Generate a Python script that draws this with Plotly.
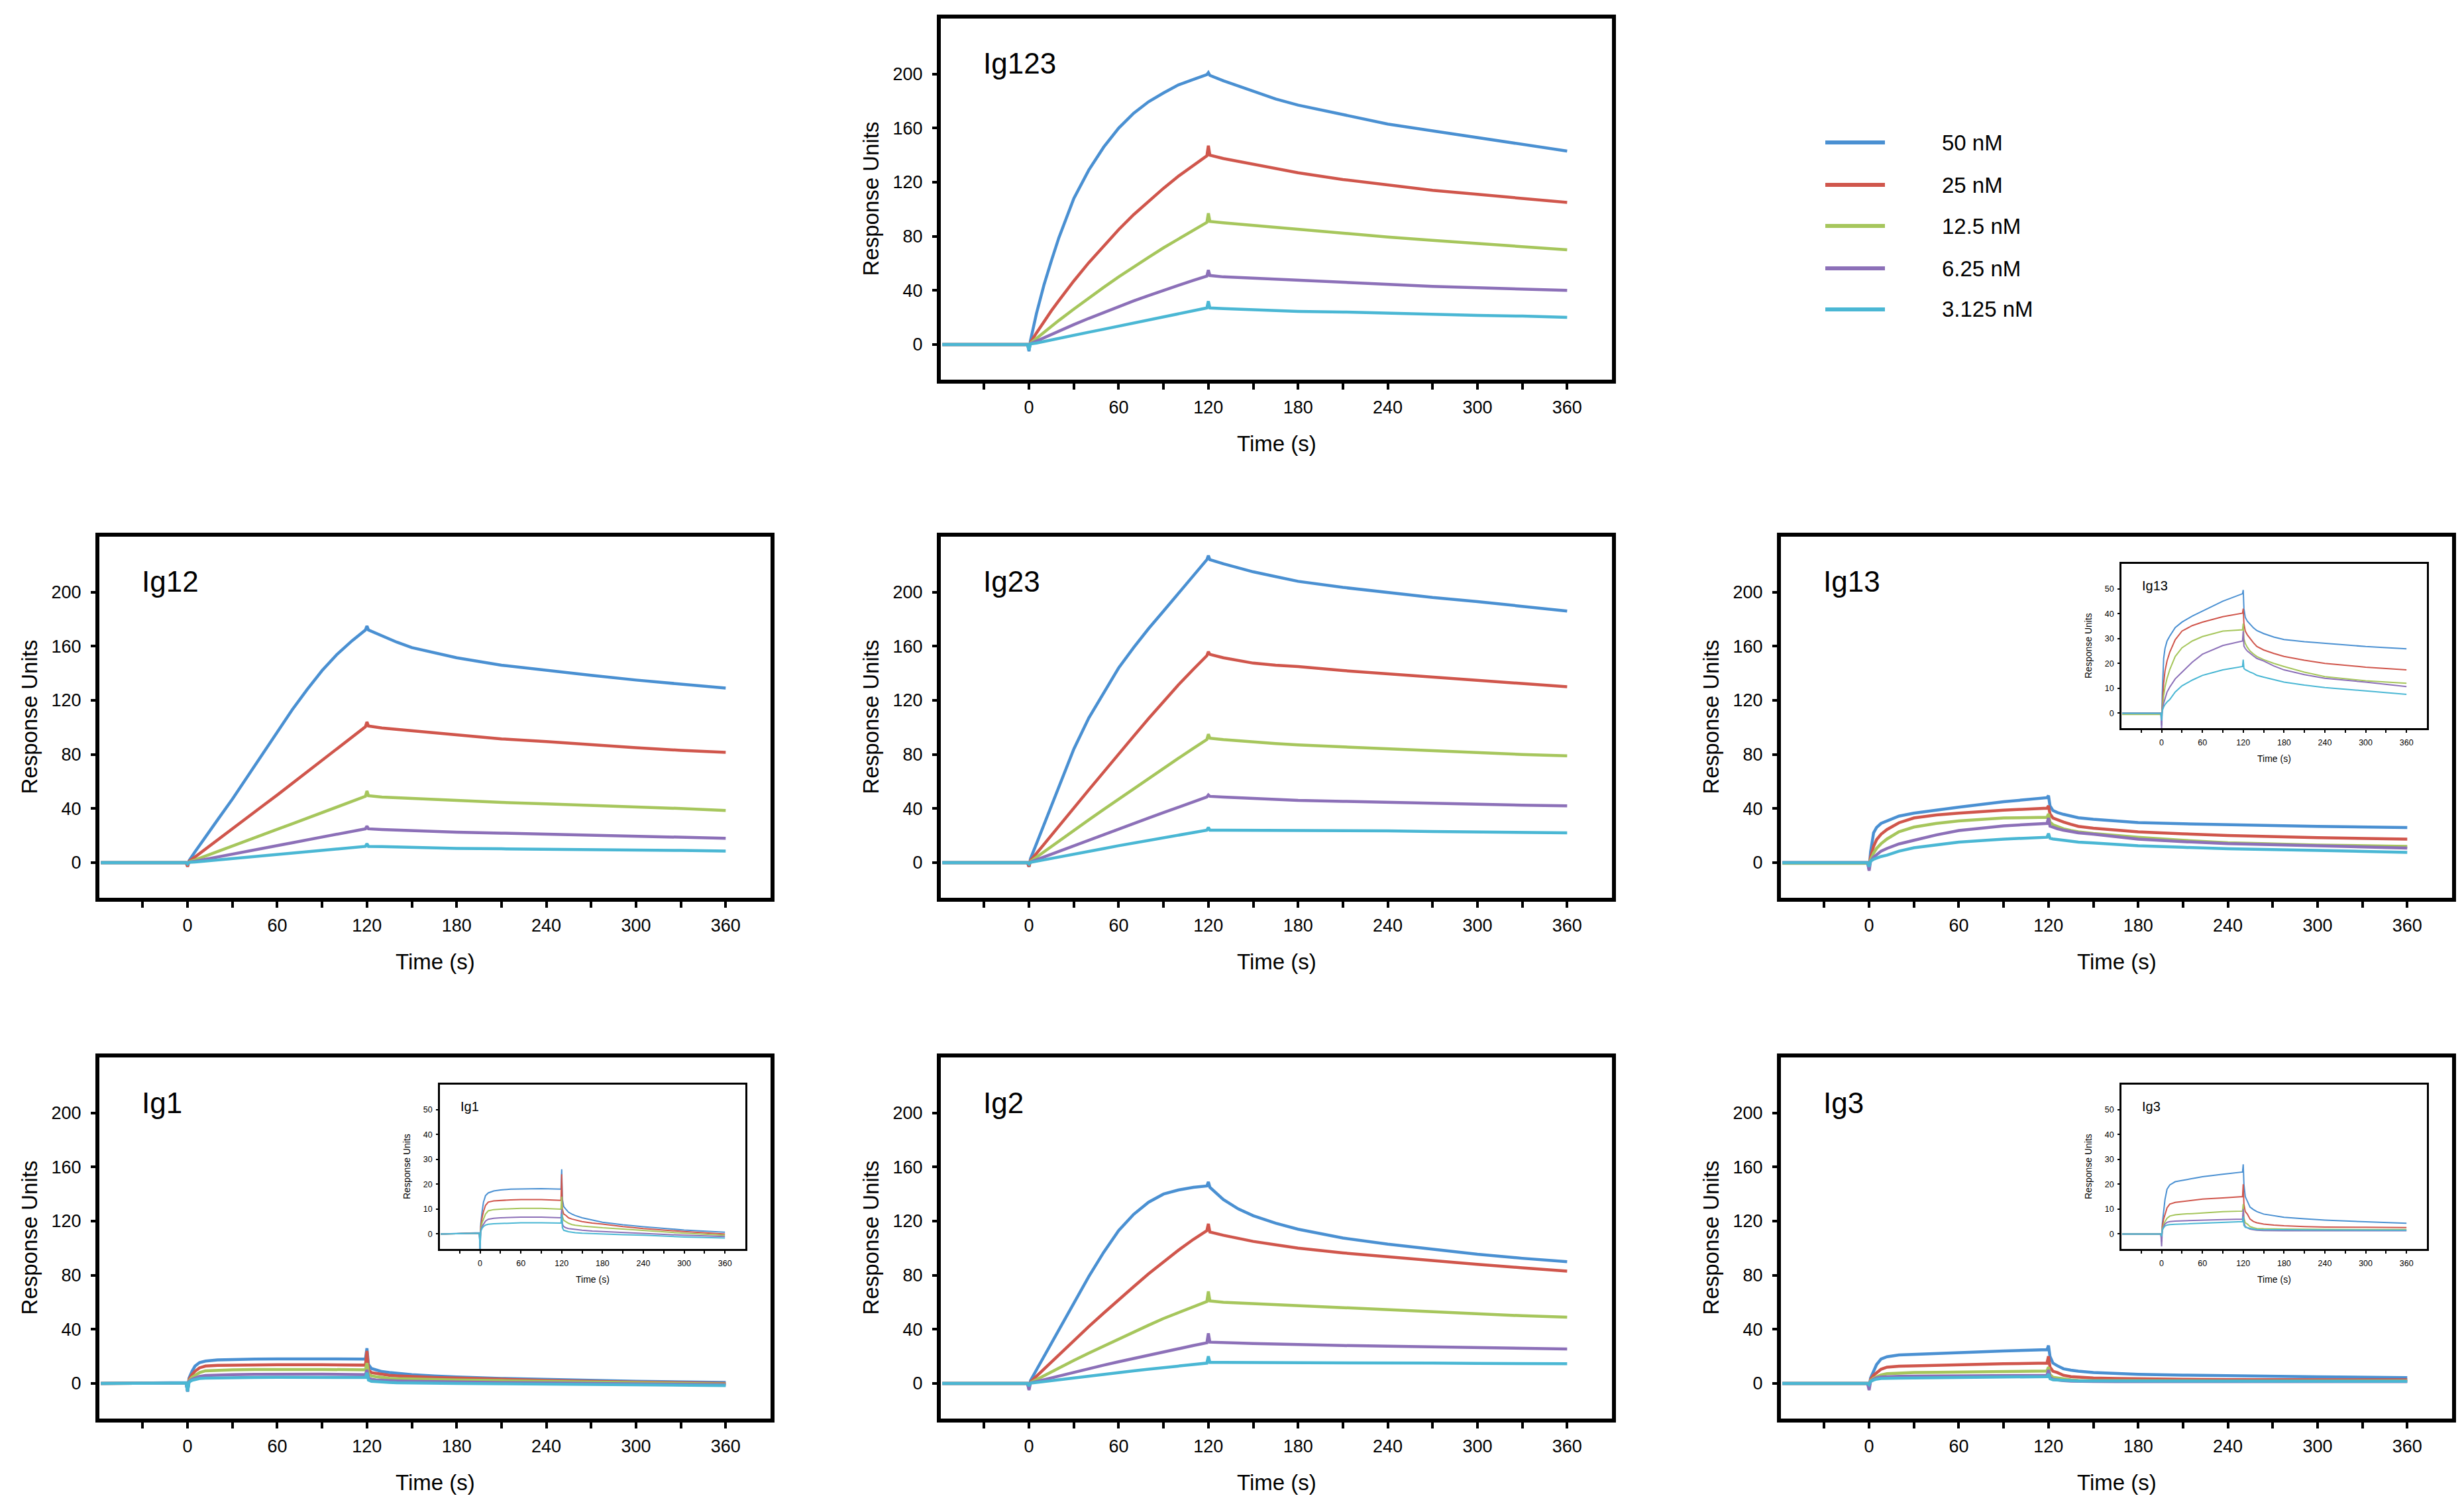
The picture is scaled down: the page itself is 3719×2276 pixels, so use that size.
import plotly.graph_objects as go

W, H = 3719, 2276
# allow for the page margin around the plot div
OFF = 4
FW, FH = W - 2 * OFF, H - 2 * OFF

CONC_LABELS = ["50 nM", "25 nM", "12.5 nM", "6.25 nM", "3.125 nM"]
COLORS = ["#4a90d2", "#d0564c", "#a6c65c", "#8c70b8", "#4ab7d4"]

X_TICKS = [-30, 0, 30, 60, 90, 120, 150, 180, 210, 240, 270, 300, 330, 360]
X_TICK_TEXT = ["", "0", "", "60", "", "120", "", "180", "", "240", "", "300", "", "360"]
Y_TICKS_MAIN = [0, 40, 80, 120, 160, 200]
Y_TICKS_INSET = [0, 10, 20, 30, 40, 50]

# time grids (s) for slow and fast binders
T_SLOW = [-58, -1, 0, 1, 5, 10, 15, 20, 30, 40, 50, 60, 70, 80, 90, 100, 110, 119, 120, 121,
          130, 140, 150, 165, 180, 210, 240, 270, 300, 330, 360]
T_FAST = [-58, -1, 0, 1, 3, 5, 8, 12, 20, 30, 45, 60, 90, 119, 120, 121, 123, 126, 130, 135,
          140, 150, 165, 180, 210, 240, 300, 360]

# Ig123
IG123_50 = [0, 0, -5, 3, 23, 44, 62, 79, 108, 129, 146, 160, 171, 179.5, 186, 192, 196, 199.5, 201, 199,
            195, 191, 187, 181.5, 177, 170, 163, 158, 153, 148, 143]
IG123_25 = [0, 0, -2, 1.5, 8.6, 17, 25, 32.5, 47, 60.5, 73, 85, 96, 106, 115.5, 124.5, 132.5, 139.5, 147, 140,
            137.5, 135.5, 133, 130, 127, 122, 118, 114, 111, 108, 105]
IG123_12 = [0, 0, -1, 1, 4.5, 9, 13.4, 17.8, 26.2, 34.4, 42.3, 50, 57.4, 64.5, 71.5, 78, 84.5, 90.3, 97, 91,
            90, 89, 88, 86.5, 85, 82, 79.5, 77, 74.5, 72, 70]
IG123_6 = [0, 0, -1, 0.5, 2.5, 5, 7.5, 10, 14.7, 19.3, 23.7, 28, 32.2, 36.1, 40.1, 43.8, 47.4, 50.6, 55, 51,
           50, 49.5, 49, 48, 47, 45.5, 44, 43, 42, 41, 40]
IG123_3 = [0, 0, -4, 0.5, 1.1, 2.3, 3.4, 4.5, 6.8, 9.1, 11.3, 13.6, 15.9, 18.1, 20.4, 22.6, 24.9, 27, 32, 27,
           26.5, 26, 25.5, 25, 24.5, 24, 23, 22.5, 21.5, 21, 20]

# Ig12
IG12_50 = [0, 0, -2, 1.5, 8, 16, 24, 31.5, 47, 63.5, 80.5, 97, 113, 128, 142, 154, 164, 172, 175, 172,
           167.5, 163, 159, 155, 151.5, 146, 142, 138.5, 135, 132, 129]
IG12_25 = [0, 0, -3, 1, 4.2, 8.3, 12.5, 16.7, 25, 33.4, 41.7, 50, 58.5, 67, 75.5, 84, 92.5, 100.5, 104, 101,
           99.5, 98.5, 97, 95.5, 94, 91.5, 89.5, 87, 85, 83, 81.5]
IG12_12 = [0, 0, -1, 0.5, 2, 4.1, 6.1, 8.2, 12.3, 16.4, 20.5, 24.6, 28.7, 32.8, 36.9, 41, 45, 49, 53, 49.5,
           48.5, 48, 47, 46.5, 46, 44.5, 43.5, 42.5, 41, 40, 38.5]
IG12_6 = [0, 0, -1, 0.3, 1, 2.1, 3.2, 4.2, 6.3, 8.4, 10.5, 12.6, 14.7, 16.8, 18.9, 21, 23, 25, 27, 25,
          24.5, 24, 23.5, 23, 22.5, 21.8, 21, 20.3, 19.5, 18.8, 18]
IG12_3 = [0, 0, -1, 0.2, 0.5, 1, 1.5, 2, 3, 4, 5, 6, 7, 8, 9, 10, 11, 12, 14, 12,
          11.8, 11.5, 11.2, 10.8, 10.5, 10.2, 10, 9.7, 9.3, 9, 8.5]

# Ig23
IG23_50 = [0, 0, -3, 3, 14, 28, 42, 55, 84, 107, 126, 144, 159, 173, 186, 199, 212, 224, 227, 224,
           221, 218, 215, 211.5, 208, 203.5, 199.5, 196, 193, 189.5, 186]
IG23_25 = [0, 0, -3, 1.5, 6.8, 13.6, 20.3, 27, 40.5, 53.8, 67, 80.5, 93.5, 106.5, 119, 131.5, 143, 153, 156, 154,
           151.5, 149.5, 147.5, 146, 145, 142, 139.5, 137, 135, 132.5, 130]
IG23_12 = [0, 0, -1, 0.8, 4, 8, 12, 16, 23.8, 31.6, 39.3, 47, 54.6, 62.2, 69.7, 77.2, 84.5, 91, 95, 92,
           91, 90, 89, 88, 87, 85.5, 84, 82.5, 81, 80, 79]
IG23_6 = [0, 0, -1, 0.4, 2.1, 4.2, 6.3, 8.4, 12.6, 16.8, 21, 25, 29, 33, 37, 41, 45, 48.5, 50, 49,
          48.5, 48, 47.5, 46.8, 46, 45.3, 44.5, 43.8, 43, 42.5, 42]
IG23_3 = [0, 0, -1, 0.2, 1, 2.1, 3.1, 4.2, 6.2, 8.3, 10.4, 12.5, 14.5, 16.5, 18.5, 20.5, 22.3, 24, 26, 24,
          24, 24, 24, 24, 24, 23.8, 23.5, 23, 22.5, 22.3, 22]

# Ig2
IG2_50 = [0, 0, -4, 2, 10, 20, 30, 40, 60, 79, 97, 113, 125, 134, 140, 143, 145, 146, 149, 145,
          136, 129, 124, 118.5, 114, 107.5, 103, 99, 95.5, 92.5, 90]
IG2_25 = [0, 0, -3, 1, 5.3, 10.6, 16, 21.3, 32, 42, 52, 62, 71.5, 81, 90, 98.5, 106.5, 113, 118, 112,
          109.5, 107, 105, 102.5, 100, 96.5, 93.5, 90.5, 88, 85.5, 83]
IG2_12 = [0, 0, -2, 0.5, 2.8, 5.7, 8.5, 11.3, 17, 22.4, 27.7, 33, 38, 43, 48, 52.5, 57, 60.5, 68, 61,
          60, 59.5, 58.5, 57.8, 57, 55.5, 54.5, 53, 51.5, 50, 49]
IG2_6 = [0, 0, -5, 0.3, 1.4, 2.8, 4.2, 5.5, 8.3, 10.9, 13.5, 16, 18.5, 21, 23.5, 25.8, 28, 30, 37, 30.5,
         30, 29.8, 29.5, 29, 28.5, 28, 27.5, 27, 26.5, 26, 25.5]
IG2_3 = [0, 0, -2, 0.2, 0.7, 1.4, 2.1, 2.8, 4.2, 5.6, 6.8, 8, 9.3, 10.5, 11.7, 12.8, 14, 15, 20, 15.5,
         15.5, 15.5, 15.5, 15.4, 15.3, 15.2, 15, 15, 14.8, 14.6, 14.5]

# Ig13
IG13_50 = [0, 0, -5, 8, 22, 26, 29, 31, 34.4, 36.6, 39, 41, 45, 48, 49.5, 42, 38.5, 37, 35.7, 34.3,
           33.2, 32, 30.6, 29.6, 28.7, 28, 26.8, 25.9]
IG13_25 = [0, 0, -2, 4, 12, 17, 21, 24.5, 29.5, 33, 35.2, 36.6, 38.8, 40.2, 42, 36, 33, 31.5, 30, 28.3,
           26.8, 25.4, 24, 22.8, 21.3, 20, 18.5, 17.4]
IG13_12 = [-0.5, -0.5, -1.5, 2, 7, 10.5, 14, 17.5, 22.8, 26.3, 29, 30.8, 33, 33.5, 36, 30, 28, 26.5, 25, 23.8,
           22.8, 21.5, 20, 18.75, 16.5, 14.7, 13, 12]
IG13_6 = [0, 0, -6, 1, 4, 6, 8.5, 10.5, 13.8, 16.5, 20.5, 23.7, 27.2, 29, 33, 27, 26, 25, 24, 23,
          22, 21, 19, 17.4, 15.5, 14, 12.5, 10.7]
IG13_3 = [0, 0, -3, 1, 2.5, 3.5, 4.5, 5.5, 8.5, 11, 13.3, 15.2, 17.4, 18.75, 21.5, 18, 17.5, 17, 16.5, 16,
          15.2, 14.5, 13.4, 12.5, 11.3, 10.3, 9, 7.6]

# Ig1
IG1_50 = [0, 0.5, -6, 4, 9, 12.8, 15.4, 16.5, 17.3, 17.7, 18, 18.1, 18.2, 18, 26, 14, 11, 10, 8.75, 8,
          7.4, 6.5, 5.5, 4.7, 3.7, 2.9, 1.6, 0.7]
IG1_25 = [0, 0.3, -4, 3, 6.5, 9, 11.5, 12.8, 13.3, 13.5, 13.7, 13.8, 13.8, 13.5, 24, 10, 8, 7.5, 6.5, 6,
          5.6, 5, 4.4, 4, 3, 2.2, 1, 0]
IG1_12 = [0, 0.3, -3, 2, 4.5, 6, 8, 9.3, 9.8, 10, 10.2, 10.3, 10.3, 10, 15, 7, 5.5, 5, 4.3, 3.8,
          3.5, 3.2, 2.8, 2.5, 2, 1.5, 0.3, -0.5]
IG1_6 = [0, 0.3, -6, 1.5, 3, 4, 5.2, 5.9, 6.3, 6.5, 6.7, 6.8, 6.8, 6.5, 10, 4, 3, 2.5, 2.2, 2,
         1.8, 1.5, 1.2, 1, 0.6, 0.3, -0.5, -1]
IG1_3 = [0, 0.3, -6, 1, 2.3, 3, 3.6, 3.9, 4.1, 4.2, 4.4, 4.5, 4.5, 4.4, 8, 2.5, 1.5, 1.2, 0.9, 0.7,
         0.5, 0.3, 0.1, 0, -0.3, -0.5, -1.2, -1.6]

# Ig3
IG3_50 = [0, 0, -3, 4, 9, 13.9, 18, 19.7, 21, 21.5, 22.3, 23, 24, 24.9, 28, 20, 15, 13, 10.8, 9.8,
          9, 8, 7.3, 6.7, 6.1, 5.6, 4.9, 4.3]
IG3_25 = [0, 0, -3, 3, 6, 8, 10.5, 12, 12.7, 13, 13.5, 14, 14.5, 15, 20, 12, 9, 8, 6, 5,
          4.5, 4, 3.6, 3.3, 3, 2.8, 2.7, 2.6]
IG3_12 = [0, 0, -2, 2, 3.8, 5, 6.3, 7.2, 7.7, 8, 8.2, 8.5, 9, 9.2, 12, 6.5, 4.5, 4, 3, 2.5,
          2.2, 2.1, 2, 2, 1.9, 1.8, 1.8, 1.8]
IG3_6 = [0, 0, -5, 1.5, 3, 4, 4.7, 5, 5.2, 5.3, 5.4, 5.5, 5.8, 6, 10, 4.5, 3, 2.5, 2, 1.7,
         1.5, 1.4, 1.3, 1.3, 1.3, 1.3, 1.3, 1.3]
IG3_3 = [0, 0, -1, 1.5, 2.5, 3.2, 3.6, 3.8, 3.9, 4, 4.1, 4.3, 4.6, 5, 7, 3.5, 2.7, 2.5, 2.2, 2,
         1.8, 1.75, 1.7, 1.7, 1.65, 1.6, 1.55, 1.5]

# (name, col, row, time grid, series, has inset)
PANELS = [
    ("Ig123", 1, 0, T_SLOW, [IG123_50, IG123_25, IG123_12, IG123_6, IG123_3], False),
    ("Ig12", 0, 1, T_SLOW, [IG12_50, IG12_25, IG12_12, IG12_6, IG12_3], False),
    ("Ig23", 1, 1, T_SLOW, [IG23_50, IG23_25, IG23_12, IG23_6, IG23_3], False),
    ("Ig13", 2, 1, T_FAST, [IG13_50, IG13_25, IG13_12, IG13_6, IG13_3], True),
    ("Ig1", 0, 2, T_FAST, [IG1_50, IG1_25, IG1_12, IG1_6, IG1_3], True),
    ("Ig2", 1, 2, T_SLOW, [IG2_50, IG2_25, IG2_12, IG2_6, IG2_3], False),
    ("Ig3", 2, 2, T_FAST, [IG3_50, IG3_25, IG3_12, IG3_6, IG3_3], True),
]

PANEL_LEFT = [146, 1416, 2684]
PANEL_TOP = [24, 806, 1592]
PANEL_W, PANEL_H = 1013, 545
INSET_DX, INSET_DY, INSET_W, INSET_H = 514, 41, 461, 248

FONT = "Liberation Sans, Arial, Helvetica, sans-serif"


def dom_x(left, width):
    return [(left - OFF) / FW, (left - OFF + width) / FW]


def dom_y(top, height):
    return [1 - (top - OFF + height) / FH, 1 - (top - OFF) / FH]


fig = go.Figure()
annotations = []
shapes = []
n = 0


def add_axes(left, top, width, height, name, t, series, inset):
    global n
    n += 1
    xa = "xaxis" if n == 1 else f"xaxis{n}"
    ya = "yaxis" if n == 1 else f"yaxis{n}"
    xr = "x" if n == 1 else f"x{n}"
    yr = "y" if n == 1 else f"y{n}"

    if inset:
        lw, tick_font, title_font, name_font = 2, 12.5, 14, 20
        yrange, yticks = [-6, 60], Y_TICKS_INSET
        box_w, xticklen, yticklen, xstand, ystand = 2.5, 4, 3, 4, 3
        ytitle_dx, xtitle_dy = -50, -46
        name_dx, name_dy = 29, 33
    else:
        lw, tick_font, title_font, name_font = 4.5, 27, 33, 44
        yrange, yticks = [-26, 241], Y_TICKS_MAIN
        box_w, xticklen, yticklen, xstand, ystand = 6, 9, 7, 4, 9
        ytitle_dx, xtitle_dy = -106, -96
        name_dx, name_dy = 62, 68

    for vals, color, label in zip(series, COLORS, CONC_LABELS):
        fig.add_trace(go.Scatter(
            x=t, y=vals, mode="lines", name=label, showlegend=False,
            line=dict(color=color, width=lw), xaxis=xr, yaxis=yr,
        ))

    fig.layout[xa] = dict(
        domain=dom_x(left, width), anchor=yr, range=[-59, 390],
        tickvals=X_TICKS, ticktext=X_TICK_TEXT, ticks="outside",
        ticklen=xticklen, tickwidth=box_w * 0.7, tickcolor="black",
        ticklabelstandoff=xstand,
        showline=True, linewidth=box_w, linecolor="black", mirror=True,
        showgrid=False, zeroline=False,
        tickfont=dict(family=FONT, size=tick_font, color="black"),
    )
    fig.layout[ya] = dict(
        domain=dom_y(top, height), anchor=xr, range=yrange,
        tickvals=yticks, ticks="outside",
        ticklen=yticklen, tickwidth=box_w * 0.6, tickcolor="black",
        ticklabelstandoff=ystand,
        showline=True, linewidth=box_w, linecolor="black", mirror=True,
        showgrid=False, zeroline=False,
        tickfont=dict(family=FONT, size=tick_font, color="black"),
    )

    annotations.append(dict(
        text=name, xref=f"{xr} domain", yref=f"{yr} domain",
        x=name_dx / width, y=1 - name_dy / height,
        xanchor="left", yanchor="middle", showarrow=False,
        font=dict(family=FONT, size=name_font, color="black"),
    ))
    annotations.append(dict(
        text="Response Units", xref=f"{xr} domain", yref=f"{yr} domain",
        x=ytitle_dx / width, y=0.5, textangle=-90,
        xanchor="center", yanchor="middle", showarrow=False,
        font=dict(family=FONT, size=title_font, color="black"),
    ))
    annotations.append(dict(
        text="Time (s)", xref=f"{xr} domain", yref=f"{yr} domain",
        x=0.5, y=xtitle_dy / height,
        xanchor="center", yanchor="middle", showarrow=False,
        font=dict(family=FONT, size=title_font, color="black"),
    ))


for name, col, row, t, series, has_inset in PANELS:
    left, top = PANEL_LEFT[col], PANEL_TOP[row]
    add_axes(left, top, PANEL_W, PANEL_H, name, t, series, False)
    if has_inset:
        add_axes(left + INSET_DX, top + INSET_DY, INSET_W, INSET_H, name, t, series, True)

# legend drawn beside the top panel
LEG_X0, LEG_X1, LEG_TEXT_X = 2751, 2841, 2925
LEG_Y = [211, 275, 337, 401, 463]
for label, color, ly in zip(CONC_LABELS, COLORS, LEG_Y):
    py = 1 - (ly - OFF) / FH
    shapes.append(dict(
        type="line", xref="paper", yref="paper",
        x0=(LEG_X0 - OFF) / FW, x1=(LEG_X1 - OFF) / FW, y0=py, y1=py,
        line=dict(color=color, width=6),
    ))
    annotations.append(dict(
        text=label, xref="paper", yref="paper",
        x=(LEG_TEXT_X - OFF) / FW, y=py, xanchor="left", yanchor="middle",
        showarrow=False, font=dict(family=FONT, size=33, color="black"),
    ))

fig.update_layout(
    width=FW, height=FH,
    margin=dict(l=0, r=0, t=0, b=0),
    paper_bgcolor="white", plot_bgcolor="white",
    showlegend=False,
    annotations=annotations, shapes=shapes,
)

fig.write_html("out.html")
